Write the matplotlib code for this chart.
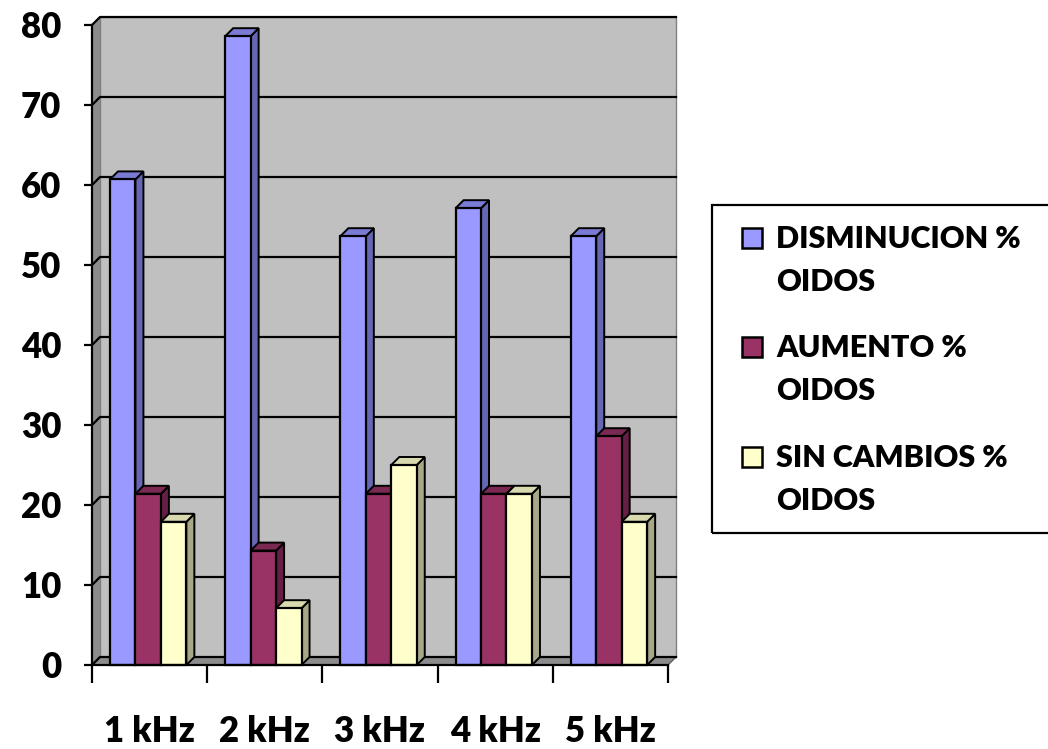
import matplotlib
matplotlib.use('Agg')
import matplotlib.pyplot as plt
from matplotlib.patches import Polygon, Rectangle

# dados (% de ouvidos por frequência)
categorias = ['1 kHz', '2 kHz', '3 kHz', '4 kHz', '5 kHz']
disminucion = [60.7, 78.6, 53.6, 57.1, 53.6]
aumento = [21.4, 14.3, 21.4, 21.4, 28.6]
sin_cambios = [17.9, 7.1, 25.0, 21.4, 17.9]
nombres = ['DISMINUCION %', 'AUMENTO %', 'SIN CAMBIOS %']
y_ticks = [0, 10, 20, 30, 40, 50, 60, 70, 80]

# cores: frente, lateral, topo
cores = [
    ('#9999FF', '#6666B3', '#7B7BD6'),
    ('#993366', '#661F44', '#7A2952'),
    ('#FFFFCC', '#A8A888', '#D9D9B0'),
]

plt.rcParams['font.family'] = ['Lato', 'DejaVu Sans']
plt.rcParams['font.weight'] = 'heavy'

W, H = 1048, 749
fig = plt.figure(figsize=(W / 100, H / 100), dpi=100)
ax = fig.add_axes([92 / W, (H - 665) / H, 576 / W, 640 / H])
ax.set_xlim(0, 5)
ax.set_ylim(0, 80)

# profundidade do efeito 3D em unidades de dados (8 px)
dx = 8 / (576 / 5)
dy = 8 / (640 / 80)

# paredes e piso
ax.add_patch(Polygon([(0, 0), (dx, dy), (dx, 80 + dy), (0, 80)], closed=True,
                     fc='#8C8C8C', ec='none', clip_on=False, zorder=0))
ax.add_patch(Rectangle((dx, dy), 5, 80, fc='#C0C0C0', ec='#808080', lw=1.0,
                       clip_on=False, zorder=0))
ax.add_patch(Polygon([(0, 0), (5, 0), (5 + dx, dy), (dx, dy)], closed=True,
                     fc='#8C8C8C', ec='#606060', lw=1.0, clip_on=False, zorder=0.5))

for v in y_ticks:
    ax.plot([0, dx, 5 + dx], [v, v + dy, v + dy], color='k', lw=1.6,
            clip_on=False, zorder=1)

# barras 3D
off = 0.156
bw = 0.221
series = [disminucion, aumento, sin_cambios]
for i in range(len(categorias)):
    for j, valores in enumerate(series):
        h = valores[i]
        x0 = i + off + j * bw
        frente, lado, topo = cores[j]
        z = 3 + i * 10 + j * 3
        ax.add_patch(Polygon([(x0 + bw, 0), (x0 + bw + dx, dy), (x0 + bw + dx, h + dy), (x0 + bw, h)],
                             closed=True, fc=lado, ec='k', lw=1.4, clip_on=False, zorder=z))
        ax.add_patch(Polygon([(x0, h), (x0 + dx, h + dy), (x0 + bw + dx, h + dy), (x0 + bw, h)],
                             closed=True, fc=topo, ec='k', lw=1.4, clip_on=False, zorder=z + 1))
        ax.bar(x0, h, width=bw, align='edge', color=frente, edgecolor='k', lw=1.6,
               clip_on=False, zorder=z + 2)

# eixos
for s in ['top', 'right']:
    ax.spines[s].set_visible(False)
for s in ['left', 'bottom']:
    ax.spines[s].set_linewidth(1.6)
    ax.spines[s].set_zorder(100)
ax.set_facecolor('none')

ax.set_yticks(y_ticks)
ax.tick_params(axis='y', length=6, width=1.6, pad=16, labelsize=25)
ax.set_xticks(range(6))
ax.set_xticklabels([])
ax.set_xticks([i + 0.5 for i in range(5)], minor=True)
ax.set_xticklabels(categorias, minor=True)
ax.tick_params(axis='x', which='major', length=13, width=1.6)
ax.tick_params(axis='x', which='minor', length=0, pad=36, labelsize=25)

# legenda
fig.add_artist(Rectangle((712 / W, 1 - 533 / H), 360 / W, 328 / H, transform=fig.transFigure,
                         fill=False, ec='k', lw=1.6, clip_on=False))
base = [248, 357, 467]
for j, nome in enumerate(nombres):
    b = base[j]
    fig.add_artist(Rectangle((742 / W, 1 - b / H), 20 / W, 20 / H, transform=fig.transFigure,
                             fc=cores[j][0], ec='k', lw=1.8))
    fig.text(776 / W, 1 - b / H, nome, fontsize=22, va='baseline', ha='left')
    fig.text(776 / W, 1 - (b + 43) / H, 'OIDOS', fontsize=22, va='baseline', ha='left')

fig.savefig('out.png', dpi=100, facecolor='white')
